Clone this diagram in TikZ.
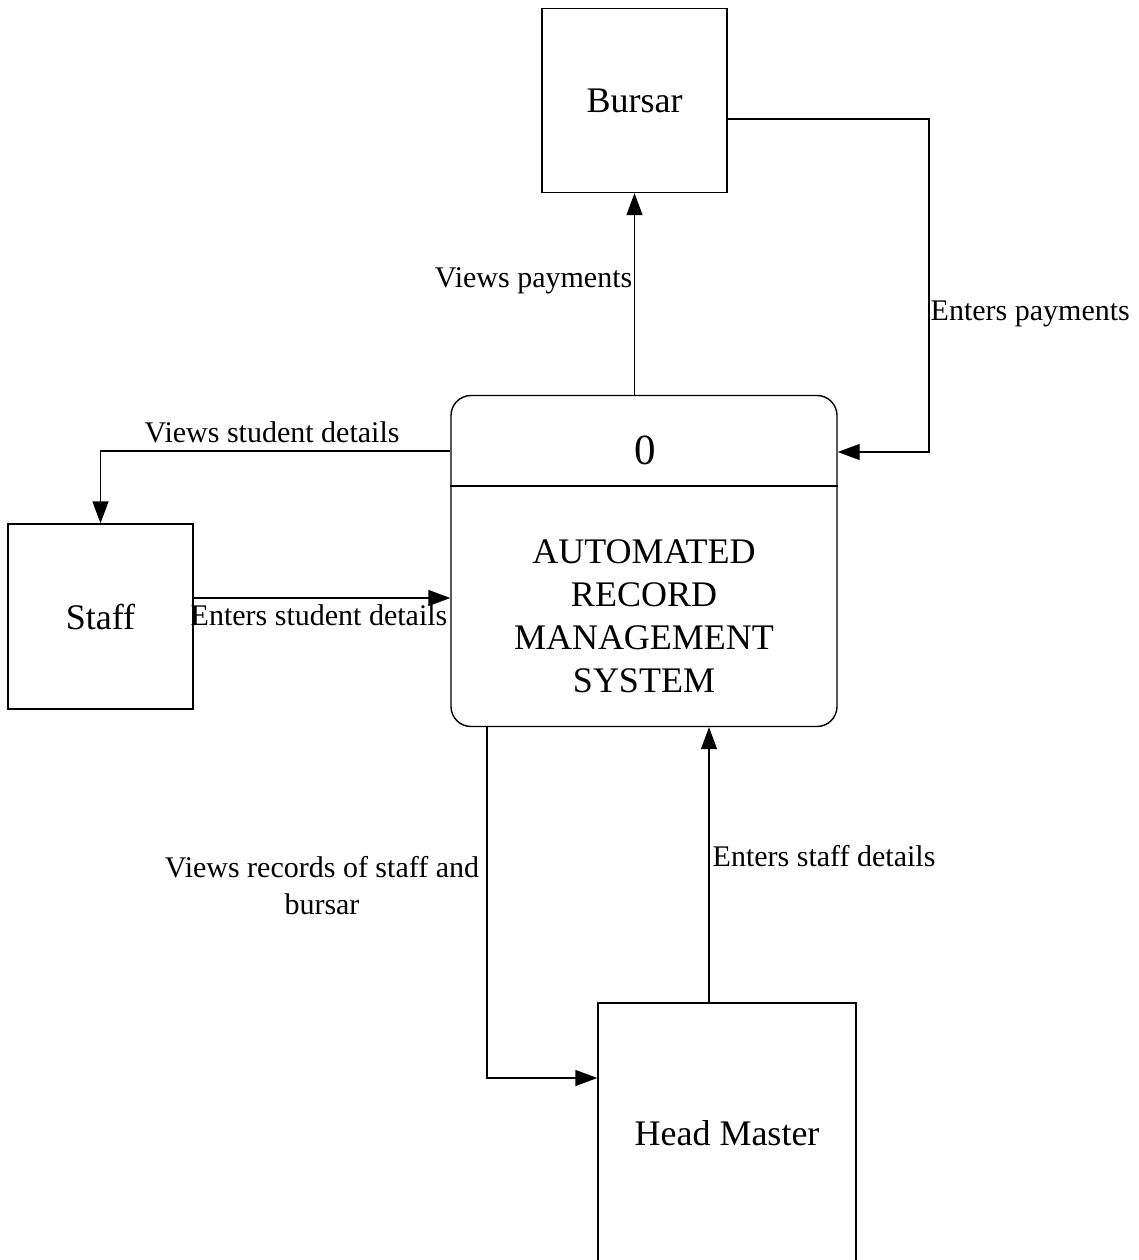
\documentclass[tikz,border=0pt]{standalone}
\usepackage{fontspec}
\setmainfont{Liberation Serif}
\usetikzlibrary{arrows.meta}
\begin{document}
\begin{tikzpicture}[x=1pt,y=-1pt,
  line width=1.4pt,
  entity/.style={draw, rectangle, inner sep=0pt, font=\fontsize{36}{43}\selectfont},
  procbox/.style={draw, rectangle, rounded corners=20pt, inner sep=0pt},
  arr/.style={-{Triangle[length=22pt,width=16pt]}},
  lbl/.style={inner sep=0pt, font=\fontsize{30}{37}\selectfont}]
\useasboundingbox (0,0) rectangle (1139,1260);
\fill[white] (0,0) rectangle (1139,1260);
% nodes
\node[entity, minimum width=185pt, minimum height=184pt] (bursar) at (634.5,100.5) {Bursar};
\node[entity, minimum width=185pt, minimum height=185pt] (staff) at (100.5,616.5) {Staff};
\node[entity, minimum width=258pt, minimum height=260pt] (head) at (727,1133) {Head Master};
\node[procbox, minimum width=386pt, minimum height=331pt] (proc) at (644,561) {};
\draw (proc.west |- 0,486) -- (proc.east |- 0,486);
\node[inner sep=0pt, font=\fontsize{43}{50}\selectfont] (pid) at (645,450) {0};
\node[inner sep=0pt, align=center, anchor=north, font=\fontsize{36}{43}\selectfont] (pname) at (644,539) {AUTOMATED\\RECORD\\MANAGEMENT\\SYSTEM};
% helper coordinates
\coordinate (bx) at (929,452);
\coordinate (b1) at (727,119);
% connectors
\draw[arr] (proc.north -| bursar.south) -- (bursar.south);
\draw[arr] (b1 -| bursar.east) -| (bx) -- (bx -| proc.east);
\draw[arr] (proc.west |- 0,451) -| (staff.north);
\draw[arr] (staff.east |- 0,598) -- (proc.west |- 0,598);
\draw[arr] (proc.south -| 487,0) |- (head.west |- 0,1078);
\draw[arr] (head.north -| 709,0) -- (proc.south -| 709,0);
% labels
\node[lbl, anchor=base east] (l1) at (633,287) {Views payments};
\node[lbl, anchor=base west] (l2) at (930,320) {Enters payments};
\node[lbl, anchor=base west] (l3) at (144,442) {Views student details};
\node[lbl, anchor=base west] (l4) at (190,625) {Enters student details};
\node[lbl, anchor=base, align=center] (l5) at (322,914) {Views records of staff and\\bursar};
\node[lbl, anchor=base west] (l6) at (712,866) {Enters staff details};
\end{tikzpicture}
\end{document}
